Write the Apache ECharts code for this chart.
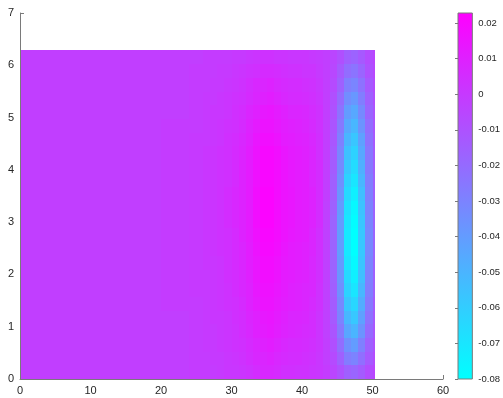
<!DOCTYPE html>
<html>
<head>
<meta charset="utf-8">
<script src="https://cdn.jsdelivr.net/npm/echarts@6.0.0/dist/echarts.min.js"></script>
<style>
    html, body { margin: 0; padding: 0; background: #fff; }
    #main { width: 503px; height: 398px; }
</style>
</head>
<body>
<div id="main"></div>
<script>
// cell edges (data units)
var xEdges = [0, 10, 20, 24, 26, 27, 28, 29, 30, 31, 32, 33, 34, 35, 36, 37, 38, 39, 40, 41, 42, 43, 44, 45, 46, 47, 48, 49, 50, 50.3];
var yEdges = [0, 0.262, 0.524, 0.785, 1.047, 1.309, 1.571, 1.833, 2.094, 2.356, 2.618, 2.880, 3.142,
              3.403, 3.665, 3.927, 4.189, 4.451, 4.712, 4.974, 5.236, 5.498, 5.760, 6.021, 6.283];

// field values, one row per y band (bottom to top)
var values = [
    [-0.002, -0.002, -0.002, -0.001, -0.001, -0.001, 0.000, 0.001, 0.001, 0.002, 0.003, 0.005, 0.007, 0.007, 0.006, 0.004, 0.004, 0.003, 0.003, 0.002, 0.001, -0.001, -0.005, -0.010, -0.016, -0.018, -0.014, -0.008, -0.005],
    [-0.002, -0.002, -0.002, -0.001, -0.001, 0.000, 0.000, 0.001, 0.002, 0.003, 0.005, 0.007, 0.008, 0.009, 0.007, 0.006, 0.005, 0.005, 0.004, 0.003, 0.001, -0.002, -0.007, -0.016, -0.027, -0.030, -0.022, -0.013, -0.008],
    [-0.002, -0.002, -0.002, -0.001, 0.000, 0.000, 0.001, 0.002, 0.003, 0.004, 0.006, 0.008, 0.010, 0.011, 0.009, 0.007, 0.006, 0.006, 0.005, 0.004, 0.002, -0.002, -0.009, -0.021, -0.035, -0.040, -0.029, -0.016, -0.010],
    [-0.002, -0.002, -0.002, -0.001, 0.000, 0.000, 0.001, 0.002, 0.003, 0.005, 0.007, 0.010, 0.012, 0.013, 0.011, 0.009, 0.008, 0.007, 0.006, 0.005, 0.002, -0.003, -0.011, -0.026, -0.044, -0.050, -0.037, -0.020, -0.012],
    [-0.002, -0.002, -0.002, -0.001, 0.000, 0.001, 0.001, 0.002, 0.004, 0.005, 0.008, 0.010, 0.013, 0.014, 0.012, 0.010, 0.008, 0.008, 0.007, 0.005, 0.002, -0.003, -0.013, -0.030, -0.051, -0.058, -0.042, -0.023, -0.013],
    [-0.002, -0.002, -0.001, -0.001, 0.000, 0.001, 0.002, 0.003, 0.004, 0.006, 0.009, 0.012, 0.015, 0.015, 0.013, 0.011, 0.010, 0.009, 0.008, 0.006, 0.003, -0.003, -0.014, -0.032, -0.057, -0.064, -0.047, -0.026, -0.014],
    [-0.002, -0.002, -0.001, 0.000, 0.000, 0.001, 0.002, 0.003, 0.005, 0.007, 0.009, 0.013, 0.016, 0.016, 0.014, 0.012, 0.010, 0.009, 0.008, 0.007, 0.003, -0.003, -0.015, -0.035, -0.062, -0.070, -0.051, -0.028, -0.016],
    [-0.002, -0.002, -0.001, 0.000, 0.000, 0.001, 0.002, 0.004, 0.005, 0.007, 0.010, 0.014, 0.017, 0.017, 0.015, 0.012, 0.011, 0.010, 0.009, 0.007, 0.004, -0.003, -0.016, -0.037, -0.065, -0.074, -0.054, -0.029, -0.016],
    [-0.002, -0.002, -0.001, 0.000, 0.001, 0.001, 0.002, 0.004, 0.006, 0.008, 0.011, 0.014, 0.018, 0.018, 0.016, 0.013, 0.012, 0.011, 0.010, 0.007, 0.004, -0.003, -0.017, -0.039, -0.069, -0.078, -0.057, -0.031, -0.017],
    [-0.002, -0.002, -0.001, 0.000, 0.001, 0.002, 0.003, 0.004, 0.006, 0.008, 0.011, 0.015, 0.019, 0.019, 0.017, 0.014, 0.012, 0.011, 0.010, 0.008, 0.004, -0.003, -0.017, -0.040, -0.071, -0.080, -0.058, -0.032, -0.018],
    [-0.002, -0.002, -0.001, 0.000, 0.001, 0.002, 0.003, 0.004, 0.006, 0.009, 0.012, 0.016, 0.020, 0.020, 0.018, 0.015, 0.013, 0.012, 0.011, 0.008, 0.004, -0.003, -0.017, -0.040, -0.071, -0.080, -0.058, -0.032, -0.018],
    [-0.002, -0.002, -0.001, 0.000, 0.001, 0.002, 0.003, 0.005, 0.007, 0.009, 0.012, 0.017, 0.021, 0.021, 0.018, 0.015, 0.014, 0.012, 0.011, 0.009, 0.005, -0.003, -0.017, -0.040, -0.070, -0.079, -0.057, -0.031, -0.017],
    [-0.002, -0.002, -0.001, 0.000, 0.001, 0.002, 0.003, 0.005, 0.007, 0.009, 0.012, 0.017, 0.021, 0.021, 0.018, 0.015, 0.014, 0.012, 0.011, 0.009, 0.005, -0.003, -0.016, -0.039, -0.068, -0.077, -0.056, -0.030, -0.017],
    [-0.002, -0.002, -0.001, 0.000, 0.001, 0.002, 0.003, 0.005, 0.007, 0.009, 0.012, 0.017, 0.021, 0.021, 0.018, 0.015, 0.014, 0.012, 0.011, 0.009, 0.005, -0.002, -0.015, -0.037, -0.065, -0.074, -0.054, -0.029, -0.016],
    [-0.002, -0.002, -0.001, 0.000, 0.001, 0.002, 0.003, 0.004, 0.006, 0.009, 0.012, 0.016, 0.020, 0.020, 0.018, 0.015, 0.013, 0.012, 0.011, 0.008, 0.005, -0.002, -0.015, -0.035, -0.062, -0.070, -0.051, -0.028, -0.016],
    [-0.002, -0.002, -0.001, 0.000, 0.001, 0.002, 0.003, 0.004, 0.006, 0.009, 0.012, 0.016, 0.020, 0.020, 0.018, 0.015, 0.013, 0.012, 0.011, 0.008, 0.005, -0.002, -0.014, -0.033, -0.058, -0.066, -0.048, -0.026, -0.015],
    [-0.002, -0.002, -0.001, 0.000, 0.001, 0.002, 0.003, 0.004, 0.006, 0.008, 0.011, 0.015, 0.019, 0.019, 0.017, 0.014, 0.012, 0.011, 0.010, 0.008, 0.004, -0.002, -0.013, -0.031, -0.055, -0.062, -0.045, -0.025, -0.014],
    [-0.002, -0.002, -0.001, 0.000, 0.000, 0.001, 0.002, 0.004, 0.005, 0.007, 0.010, 0.014, 0.017, 0.017, 0.015, 0.012, 0.011, 0.010, 0.009, 0.007, 0.004, -0.002, -0.012, -0.029, -0.050, -0.057, -0.042, -0.023, -0.013],
    [-0.002, -0.002, -0.001, -0.001, 0.000, 0.001, 0.002, 0.003, 0.004, 0.006, 0.009, 0.012, 0.015, 0.015, 0.013, 0.011, 0.010, 0.009, 0.008, 0.006, 0.003, -0.002, -0.011, -0.026, -0.045, -0.051, -0.037, -0.021, -0.012],
    [-0.002, -0.002, -0.002, -0.001, 0.000, 0.001, 0.001, 0.002, 0.004, 0.005, 0.008, 0.010, 0.013, 0.014, 0.012, 0.010, 0.008, 0.008, 0.007, 0.005, 0.003, -0.002, -0.010, -0.023, -0.040, -0.045, -0.033, -0.018, -0.011],
    [-0.002, -0.002, -0.002, -0.001, 0.000, 0.000, 0.001, 0.002, 0.003, 0.004, 0.006, 0.008, 0.010, 0.011, 0.009, 0.007, 0.006, 0.006, 0.005, 0.004, 0.002, -0.002, -0.009, -0.020, -0.034, -0.038, -0.028, -0.016, -0.009],
    [-0.002, -0.002, -0.002, -0.001, -0.001, 0.000, 0.000, 0.001, 0.002, 0.003, 0.005, 0.007, 0.008, 0.009, 0.007, 0.006, 0.005, 0.005, 0.004, 0.003, 0.001, -0.002, -0.007, -0.016, -0.028, -0.031, -0.023, -0.013, -0.008],
    [-0.002, -0.002, -0.002, -0.001, -0.001, -0.001, 0.000, 0.000, 0.001, 0.002, 0.003, 0.004, 0.006, 0.006, 0.005, 0.004, 0.003, 0.003, 0.002, 0.002, 0.000, -0.002, -0.006, -0.013, -0.021, -0.024, -0.018, -0.010, -0.006],
    [-0.002, -0.002, -0.002, -0.002, -0.001, -0.001, -0.001, -0.001, 0.000, 0.000, 0.001, 0.002, 0.003, 0.003, 0.002, 0.002, 0.001, 0.001, 0.001, 0.000, -0.001, -0.002, -0.005, -0.009, -0.015, -0.017, -0.013, -0.008, -0.005]
];

var cMin = -0.08;
var cMax = 0.0228;
var xTicks = [0, 60, 10];
var yTicks = [0, 7, 1];

var cells = [];
for (var r = 0; r < values.length; r++) {
    for (var c = 0; c < values[r].length; c++) {
        cells.push([xEdges[c], xEdges[c + 1], yEdges[r], yEdges[r + 1], values[r][c]]);
    }
}

var axisColor = '#7a7a7a';
var textColor = '#262626';
var font = 'Liberation Sans, Arial, Helvetica, sans-serif';

function renderCell(params, api) {
    var p0 = api.coord([api.value(0), api.value(3)]);
    var p1 = api.coord([api.value(1), api.value(2)]);
    // snap to whole pixels so neighbouring cells meet without seams
    var x0 = Math.round(p0[0]), y0 = Math.round(p0[1]);
    var x1 = Math.round(p1[0]), y1 = Math.round(p1[1]);
    return {
        type: 'rect',
        shape: { x: x0, y: y0, width: x1 - x0, height: y1 - y0 },
        style: { fill: api.visual('color') }
    };
}

var chart = echarts.init(document.getElementById('main'));
chart.setOption({
    animation: false,
    grid: [
        { left: 20, top: 13, width: 423, height: 366 },
        {
            left: 458, top: 13, width: 18, height: 366, show: true,
            borderColor: axisColor, borderWidth: 1,
            backgroundColor: {
                type: 'linear', x: 0, y: 0, x2: 0, y2: 1,
                colorStops: [{ offset: 0, color: '#ff00ff' }, { offset: 1, color: '#00ffff' }]
            }
        }
    ],
    xAxis: [
        {
            type: 'value', gridIndex: 0, position: 'bottom',
            min: xTicks[0], max: xTicks[1], interval: xTicks[2],
            axisLine: { show: false },
            axisTick: { inside: true, length: 4, lineStyle: { color: axisColor } },
            axisLabel: { color: textColor, fontSize: 11, fontFamily: font, margin: 6 },
            splitLine: { show: false }
        },
        {
            type: 'value', gridIndex: 0, position: 'bottom', z: 5,
            min: xTicks[0], max: xTicks[1],
            axisLine: { show: true, lineStyle: { color: axisColor, width: 1 } },
            axisTick: { show: false }, axisLabel: { show: false }, splitLine: { show: false }
        },
        { type: 'value', gridIndex: 1, min: 0, max: 1, show: false }
    ],
    yAxis: [
        {
            type: 'value', gridIndex: 0, position: 'left',
            min: yTicks[0], max: yTicks[1], interval: yTicks[2],
            axisLine: { show: false },
            axisTick: { inside: true, length: 4, lineStyle: { color: axisColor } },
            axisLabel: { color: textColor, fontSize: 11, fontFamily: font, margin: 6 },
            splitLine: { show: false }
        },
        {
            type: 'value', gridIndex: 0, position: 'left', z: 5,
            min: yTicks[0], max: yTicks[1],
            axisLine: { show: true, lineStyle: { color: axisColor, width: 1 } },
            axisTick: { show: false }, axisLabel: { show: false }, splitLine: { show: false }
        },
        {
            type: 'value', gridIndex: 1, position: 'right',
            min: cMin, max: cMax, interval: 0.01,
            axisLine: { show: false },
            axisTick: { inside: true, length: 3, lineStyle: { color: axisColor } },
            axisLabel: { color: textColor, fontSize: 9.5, fontFamily: font, margin: 6, showMaxLabel: false },
            splitLine: { show: false }
        }
    ],
    visualMap: {
        show: false,
        type: 'continuous',
        min: cMin,
        max: cMax,
        dimension: 4,
        seriesIndex: 0,
        inRange: { color: ['#00ffff', '#ff00ff'] }
    },
    series: [{
        type: 'custom',
        xAxisIndex: 0,
        yAxisIndex: 0,
        renderItem: renderCell,
        encode: { x: [0, 1], y: [2, 3] },
        data: cells
    }]
});
</script>
</body>
</html>
